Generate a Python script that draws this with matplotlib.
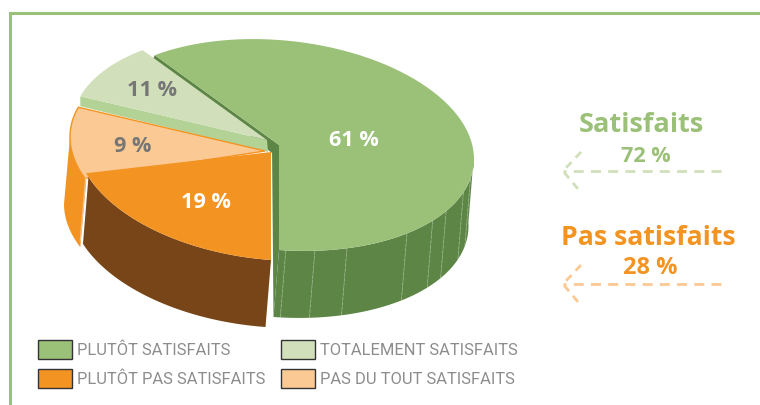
import numpy as np
import matplotlib
matplotlib.use('Agg')
import matplotlib.pyplot as plt
from matplotlib.patches import Polygon, Rectangle

# slices, clockwise from the green one
labels = ['PLUTÔT SATISFAITS', 'PLUTÔT PAS SATISFAITS', 'PAS DU TOUT SATISFAITS', 'TOTALEMENT SATISFAITS']
values = [61, 19, 9, 11]
summary_names = ['Satisfaits', 'Pas satisfaits']
summary_values = [72, 28]

GREEN = '#9bc077'
DARK_GREEN = '#5c8546'
LIGHT_GREEN = '#d1e0bb'
MID_GREEN = '#b3d296'
ORANGE = '#f39422'
PEACH = '#fbc994'
BROWN = '#774517'
GREY = '#767676'
LEGEND_GREY = '#8c8c8c'

plt.rcParams['font.family'] = ['Open Sans', 'DejaVu Sans']

fig = plt.figure(figsize=(7.6, 4.05), dpi=100)
ax = fig.add_axes([0, 0, 1, 1])
ax.set_xlim(0, 760)
ax.set_ylim(405, 0)
ax.axis('off')

RX, RY, SHEAR = 195, 105, 14
DEPTH = np.array([-5.5, 67])


# angle in degrees, clockwise from the top of the pie
def rim(center, deg, ry=RY):
    t = np.radians(np.atleast_1d(deg))
    u, v = np.sin(t), -np.cos(t)
    return np.column_stack([center[0] + RX * u, center[1] + ry * v + SHEAR * u])


def arc(center, a, b, ry=RY):
    return rim(center, np.linspace(a, b, 80), ry)


def poly(points, color, z, edge='none', lw=0):
    ax.add_patch(Polygon(points, closed=True, facecolor=color, edgecolor=edge, linewidth=lw, zorder=z))


def wall(center, a, b, color, z, ry=RY, depth=DEPTH):
    top = arc(center, a, b, ry)
    poly(np.vstack([top, top[::-1] + depth]), color, z)


# slice limits from the values, the green slice ends at the bottom of the pie
shares = np.array(values) / sum(values) * 360
g_end = 180
g_start = g_end - shares[0]
o_end = g_end + shares[1] + 3      # back slices look squeezed by the perspective
p_end = g_end + shares[1] + shares[2] + 6
l_end = g_start + 360

c_green = np.array([279, 145])
c_orange = np.array([271, 152])
c_peach = np.array([265, 151])
c_light = np.array([267, 140])

# green slice, cut faces are only thin strips
start_pt = rim(c_green, g_start)[0]
end_pt = rim(c_green, g_end)[0]
poly([start_pt, c_green, c_green + [-7, 8], start_pt + [-2, 5]], DARK_GREEN, 1)
poly([c_green, end_pt, end_pt + DEPTH, c_green + [-7, 0]], DARK_GREEN, 1)
wall(c_green, 88, g_end, DARK_GREEN, 2)
poly(np.vstack([c_green, arc(c_green, g_start, g_end)]), GREEN, 3)

# thin seams on the green side
for s in [178, 169.4, 159.6, 139, 128, 121, 109, 101]:
    p = rim(c_green, s)[0]
    ax.plot([p[0], p[0] + DEPTH[0]], [p[1], p[1] + DEPTH[1]], color='#c9d8bb', lw=0.5,
            alpha=0.7, dashes=(6, 1), zorder=3)

# light green slice with its thin front band
a_pt = rim(c_light, p_end)[0]
poly([c_light, a_pt, a_pt + [0, 10], c_light + [1, 12]], MID_GREEN, 4)
poly(np.vstack([c_light, arc(c_light, p_end, l_end)]), LIGHT_GREEN, 5)

# peach slice, the outer wall is orange
wall(c_peach, o_end - 5, 270, ORANGE, 4, depth=np.array([-6, 67]))
poly(np.vstack([c_peach, arc(c_peach, o_end - 4, p_end)]), PEACH, 6, edge=ORANGE, lw=1)

# orange slice
wall(c_orange, g_end, o_end - 2, BROWN, 7, ry=108)
poly(np.vstack([c_orange, arc(c_orange, g_end, o_end, ry=108)]), ORANGE, 8)

# pale seam between the orange wall and the brown one
seam = rim(c_orange, o_end, ry=108)[0]
ax.plot([seam[0], seam[0] - 6], [seam[1], seam[1] + 68], color='#f7c58f', lw=0.8, zorder=6)

# percent labels on the slices
pct = dict(fontsize=15.6, fontweight='bold', ha='center', va='center', zorder=10)
ax.text(354, 140, f'{values[0]} %', color='white', **pct)
ax.text(206, 202, f'{values[1]} %', color='white', **pct)
ax.text(133, 147, f'{values[2]} %', color=GREY, **pct)
ax.text(152, 91, f'{values[3]} %', color=GREY, **pct)

# frame
ax.plot([10, 10, 760], [405, 13, 13], color=GREEN, lw=2.2, solid_joinstyle='miter')

# legend
swatches = [GREEN, ORANGE, PEACH, LIGHT_GREEN]
legend_pos = [(38, 340), (38, 369), (281, 369), (281, 340)]
for lab, col, (x, y) in zip(labels, swatches, legend_pos):
    ax.add_patch(Rectangle((x, y), 34, 19, facecolor=col, edgecolor='#333333', linewidth=1))
    ax.text(x + 39, y + 10.5, lab, color=LEGEND_GREY, fontsize=11.9, va='center', ha='left',
            family=['Roboto', 'DejaVu Sans'])

# right side summary
summary_cols = [GREEN, ORANGE]
arrow_cols = [LIGHT_GREEN, PEACH]
name_pos = [(641, 125), (648, 238)]
name_size = [19.5, 19.2]
pct_pos = [(645.5, 156), (650, 268)]
pct_size = [15.6, 17]
arrow_y = [171, 284]
for i in range(2):
    ax.text(*name_pos[i], summary_names[i], color=summary_cols[i], fontsize=name_size[i], fontweight='bold',
            ha='center', va='center')
    ax.text(*pct_pos[i], f'{summary_values[i]} %', color=summary_cols[i], fontsize=pct_size[i], fontweight='bold',
            ha='center', va='center')
    y = arrow_y[i]
    ax.plot([721, 563], [y, y], color=arrow_cols[i], lw=2, dashes=(3.6, 2.6))
    ax.plot([581, 563, 578], [y - 19, y, y + 18], color=arrow_cols[i], lw=2, dashes=(2.8, 2.2))

fig.savefig('out.png', dpi=100)
